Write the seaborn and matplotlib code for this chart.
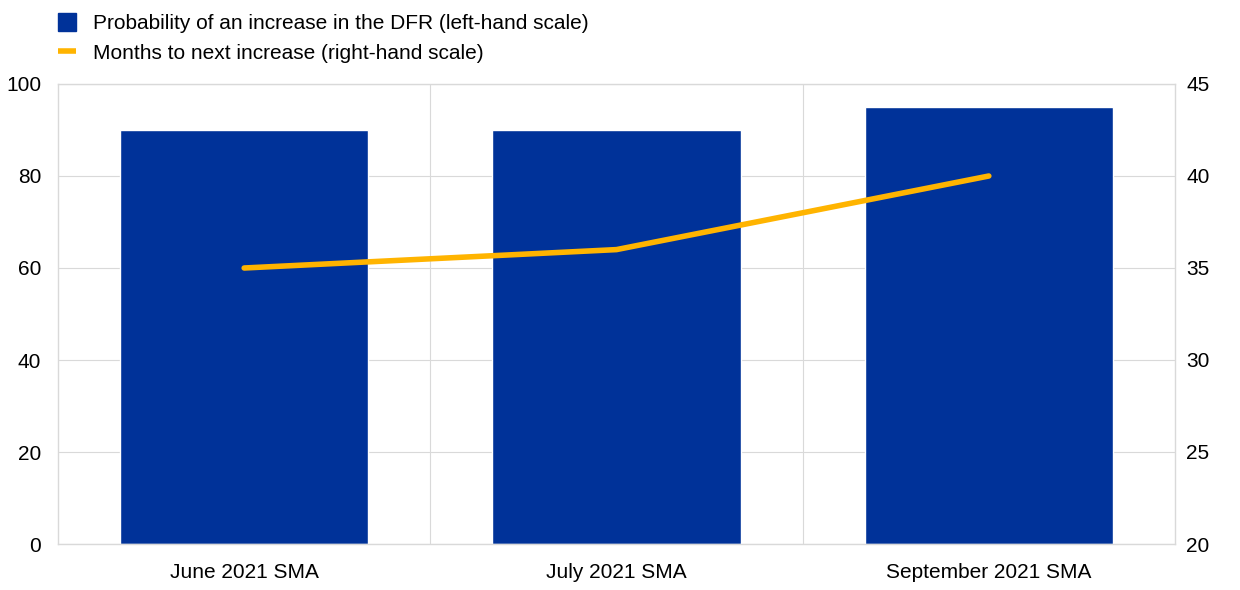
import matplotlib
matplotlib.use("Agg")
import matplotlib.pyplot as plt
from matplotlib.lines import Line2D
import pandas as pd
import seaborn as sns

# data
MEETINGS = ["June 2021 SMA", "July 2021 SMA", "September 2021 SMA"]
PROB_INCREASE = [90, 90, 95]          # left-hand scale, %
MONTHS_TO_INCREASE = [35, 36, 40]     # right-hand scale, months

BLUE = "#003299"
YELLOW = "#FFB400"
GRID = "#d9d9d9"
FS = 15

sns.set_theme(style="white")
plt.rcParams["font.family"] = ["Liberation Sans", "DejaVu Sans"]
plt.rcParams["font.size"] = FS
plt.rcParams["text.color"] = "black"

df = pd.DataFrame({"meeting": MEETINGS, "prob": PROB_INCREASE, "months": MONTHS_TO_INCREASE})

fig = plt.figure(figsize=(12.4, 5.9), dpi=100)
ax = fig.add_axes([58 / 1240, 46 / 590, 1117 / 1240, 460 / 590])

sns.barplot(data=df, x="meeting", y="prob", color=BLUE, width=0.667,
            saturation=1, ax=ax, zorder=2)
ax.set_ylim(0, 100)
ax.set_xlim(-0.5, 2.5)
ax.set_yticks([0, 20, 40, 60, 80, 100])
ax.set_xticks([0.5, 1.5], minor=True)
ax.grid(True, axis="y", color=GRID, lw=0.8, zorder=0)
ax.grid(True, axis="x", which="minor", color=GRID, lw=0.8, zorder=0)
ax.set_axisbelow(True)
ax.set_xlabel("")
ax.set_ylabel("")
ax.tick_params(axis="both", which="both", length=0, labelsize=FS, colors="black")
ax.tick_params(axis="y", pad=12)
ax.tick_params(axis="x", pad=14)
for s in ax.spines.values():
    s.set_color(GRID)
    s.set_linewidth(1.0)

ax2 = ax.twinx()
sns.lineplot(data=df, x="meeting", y="months", color=YELLOW, lw=4, ax=ax2,
             solid_capstyle="round")
ax2.set_ylim(20, 45)
ax2.set_yticks([20, 25, 30, 35, 40, 45])
ax2.set_ylabel("")
ax2.grid(False)
ax2.tick_params(axis="y", length=0, labelsize=FS, pad=8, colors="black")
for s in ax2.spines.values():
    s.set_visible(False)

handles = [
    Line2D([0], [0], marker="s", color="none", markerfacecolor=BLUE,
           markeredgecolor=BLUE, markersize=13),
    Line2D([0], [0], color=YELLOW, lw=4, solid_capstyle="butt"),
]
labels = ["Probability of an increase in the DFR (left-hand scale)",
          "Months to next increase (right-hand scale)"]
fig.legend(handles, labels, loc="upper left", bbox_to_anchor=(50 / 1240, 1 - 6 / 590),
           frameon=False, fontsize=FS, handlelength=0.85, handletextpad=0.8,
           labelspacing=0.5, borderaxespad=0.0)

fig.savefig("out.png", dpi=100)
